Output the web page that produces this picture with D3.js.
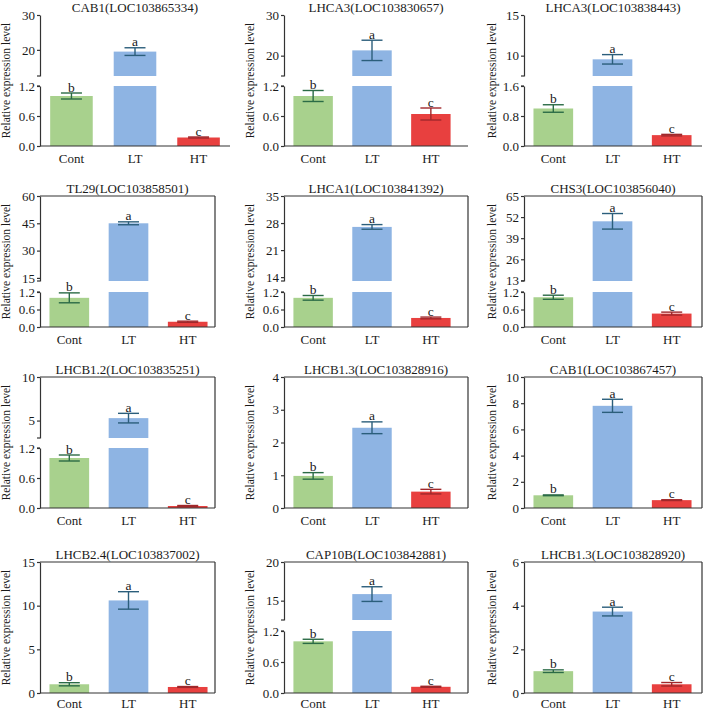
<!DOCTYPE html>
<html><head><meta charset="utf-8">
<script src="https://cdn.jsdelivr.net/npm/d3@7"></script>
<style>
body{margin:0;background:#fff}
svg{display:block}
text{font-family:"Liberation Serif","Times New Roman",serif;fill:#1a1a1a}
</style>
</head><body><svg id="c" width="709" height="711"></svg>
<script>
// ---------------- data ----------------
const groups = ["Cont", "LT", "HT"];
const titles = [
  "CAB1(LOC103865334)", "LHCA3(LOC103830657)", "LHCA3(LOC103838443)",
  "TL29(LOC103858501)", "LHCA1(LOC103841392)", "CHS3(LOC103856040)",
  "LHCB1.2(LOC103835251)", "LHCB1.3(LOC103828916)", "CAB1(LOC103867457)",
  "LHCB2.4(LOC103837002)", "CAP10B(LOC103842881)", "LHCB1.3(LOC103828920)"
];
const means = [
  [1.0, 19.5, 0.17], [1.0, 21.3, 0.64], [1.0, 9.55, 0.29],
  [1.0, 45.0, 0.18], [1.0, 27.0, 0.31], [1.02, 49.4, 0.46],
  [1.0, 5.28, 0.04], [0.98, 2.45, 0.5], [0.97, 7.8, 0.6],
  [1.0, 10.6, 0.69], [1.0, 15.85, 0.12], [1.0, 3.73, 0.4]
];
const errs = [
  [0.06, 1.1, 0.01], [0.11, 2.5, 0.12], [0.1, 0.58, 0.02],
  [0.17, 0.8, 0.02], [0.08, 0.6, 0.03], [0.07, 4.8, 0.05],
  [0.06, 0.55, 0.01], [0.1, 0.18, 0.07], [0.03, 0.5, 0.03],
  [0.18, 1.0, 0.05], [0.04, 0.95, 0.01], [0.06, 0.2, 0.08]
];
const letters = ["b", "a", "c"];
const lowerDomains = [
  [0, 1.2], [0, 1.2], [0, 1.6],
  [0, 1.2], [0, 1.2], [0, 1.2],
  [0, 1.2], [0, 4], [0, 10],
  [0, 15], [0, 1.2], [0, 6]
];
const upperDomains = [
  [12.5, 30], [15, 30], [7.5, 15],
  [13.3, 60], [13, 35], [12.6, 65],
  [3, 10], null, null,
  null, [12.5, 20], null
];
const lowerTicks = [
  [0, 0.6, 1.2], [0, 0.6, 1.2], [0, 0.8, 1.6],
  [0, 0.6, 1.2], [0, 0.6, 1.2], [0, 0.6, 1.2],
  [0, 0.6, 1.2], [0, 1, 2, 3, 4], [0, 2, 4, 6, 8, 10],
  [0, 5, 10, 15], [0, 0.6, 1.2], [0, 2, 4, 6]
];
const upperTicks = [
  [20, 30], [20, 30], [10, 15],
  [15, 30, 45, 60], [14, 21, 28, 35], [13, 26, 39, 52, 65],
  [5, 10], null, null,
  null, [15, 20], null
];
const yLabel = "Relative expression level";

// ---------------- layout / style ----------------
const barColors = ["#a8d18d", "#8eb4e3", "#e8403f"];
const errColors = ["#2b6b46", "#2b5e7b", "#a1282b"];
const rowsL = [
  {top: 15, bottom: 146, b1: 76, b2: 86, frame: false, xpad: 8},
  {top: 196, bottom: 327, b1: 281, b2: 292, frame: true, xpad: 8},
  {top: 377, bottom: 508, b1: 438, b2: 448, frame: true, xpad: 8},
  {top: 562, bottom: 693, b1: 620, b2: 631, frame: true, xpad: 6}
];
const colLeft = [40, 284, 524];
const colBarW = [177, 176, 177];
const colFrameW = [175, 184, 178];
const colLabelOff = [34, 34, 32];
const axisColor = "#333";

const svg = d3.select("#c");

means.forEach((m, i) => {
  const r = Math.floor(i / 3), c = i % 3;
  const L = rowsL[r];
  const left = colLeft[c];
  const bw = i === 0 ? 190 : colBarW[c];
  const fw = i === 0 ? 190 : colFrameW[c];
  const g = svg.append("g");

  const x = d3.scaleBand().domain(groups).range([left, left + bw])
    .paddingInner(0.33).paddingOuter(0.16);
  const lowD = lowerDomains[i];
  const up = upperDomains[i];
  const yLow = d3.scaleLinear().domain(lowD).range(up ? [L.bottom, L.b2] : [L.bottom, L.top]);
  const yUp = up ? d3.scaleLinear().domain(up).range([L.b1, L.top]) : null;
  const yv = v => (up && v > lowD[1]) ? yUp(v) : yLow(v);

  // bars
  groups.forEach((gn, k) => {
    const v = m[k];
    const x0 = x(gn), w = x.bandwidth();
    if (up && v > lowD[1]) {
      g.append("rect").attr("x", x0).attr("width", w)
        .attr("y", yLow(lowD[1])).attr("height", yLow(0) - yLow(lowD[1]))
        .attr("fill", barColors[k]);
      g.append("rect").attr("x", x0).attr("width", w)
        .attr("y", yUp(v)).attr("height", yUp(up[0]) - yUp(v))
        .attr("fill", barColors[k]);
    } else {
      g.append("rect").attr("x", x0).attr("width", w)
        .attr("y", yLow(v)).attr("height", yLow(0) - yLow(v))
        .attr("fill", barColors[k]);
    }
    // error bar
    const e = errs[i][k];
    const cx = x0 + w / 2;
    const yt = yv(v + e), yb = yv(v - e);
    const cw = 10.5;
    const eg = g.append("g").attr("stroke", errColors[k]).attr("stroke-width", 1.4).attr("fill", "none");
    eg.append("line").attr("x1", cx).attr("x2", cx).attr("y1", yt).attr("y2", yb);
    eg.append("line").attr("x1", cx - cw).attr("x2", cx + cw).attr("y1", yt).attr("y2", yt);
    eg.append("line").attr("x1", cx - cw).attr("x2", cx + cw).attr("y1", yb).attr("y2", yb);
    g.append("text").attr("x", cx).attr("y", yt - 1.5)
      .attr("text-anchor", "middle").attr("font-size", 13.5).text(letters[k]);
  });

  // y axes
  const fmtLow = up ? d3.format(".1f") : d3.format("d");
  const axL = g.append("g").attr("transform", `translate(${left},0)`)
    .call(d3.axisLeft(yLow).tickValues(lowerTicks[i]).tickFormat(fmtLow)
      .tickSize(3).tickSizeOuter(0).tickPadding(2));
  const axes = [axL];
  if (up) {
    const axU = g.append("g").attr("transform", `translate(${left},0)`)
      .call(d3.axisLeft(yUp).tickValues(upperTicks[i]).tickFormat(d3.format("d"))
        .tickSize(3).tickSizeOuter(0).tickPadding(2));
    axes.push(axU);
    // break marks
    g.append("line").attr("x1", left - 3).attr("x2", left).attr("y1", L.b1).attr("y2", L.b1)
      .attr("stroke", axisColor).attr("stroke-width", 1.2);
    g.append("line").attr("x1", left - 3).attr("x2", left).attr("y1", L.b2).attr("y2", L.b2)
      .attr("stroke", axisColor).attr("stroke-width", 1.2);
  }
  axes.forEach(a => {
    a.selectAll("path,line").attr("stroke", axisColor).attr("stroke-width", 1.2);
    a.selectAll("text").attr("font-size", 13).attr("fill", "#1a1a1a")
      .attr("font-family", '"Liberation Serif","Times New Roman",serif');
  });

  // x axis
  const ax = g.append("g").attr("transform", `translate(0,${L.bottom})`)
    .call(d3.axisBottom(x).tickSize(0).tickPadding(L.xpad));
  ax.select(".domain").remove();
  ax.selectAll("text").attr("font-size", 13).attr("fill", "#1a1a1a")
    .attr("font-family", '"Liberation Serif","Times New Roman",serif');
  g.append("line").attr("x1", left).attr("x2", left + fw).attr("y1", L.bottom).attr("y2", L.bottom)
    .attr("stroke", axisColor).attr("stroke-width", 1.2);

  if (L.frame) {
    g.append("line").attr("x1", left).attr("x2", left + fw).attr("y1", L.top).attr("y2", L.top)
      .attr("stroke", axisColor).attr("stroke-width", 1.2);
    g.append("line").attr("x1", left + fw).attr("x2", left + fw).attr("y1", L.top).attr("y2", L.bottom)
      .attr("stroke", axisColor).attr("stroke-width", 1.2);
  }

  // title
  g.append("text").attr("x", left + fw / 2).attr("y", L.top - 3)
    .attr("text-anchor", "middle").attr("font-size", 13).text(titles[i]);

  // y label
  g.append("text")
    .attr("transform", `translate(${left - colLabelOff[c]},${(L.top + L.bottom) / 2}) rotate(-90)`)
    .attr("text-anchor", "middle").attr("dominant-baseline", "central")
    .attr("font-size", 11.5).text(yLabel);
});
</script>
</body></html>
